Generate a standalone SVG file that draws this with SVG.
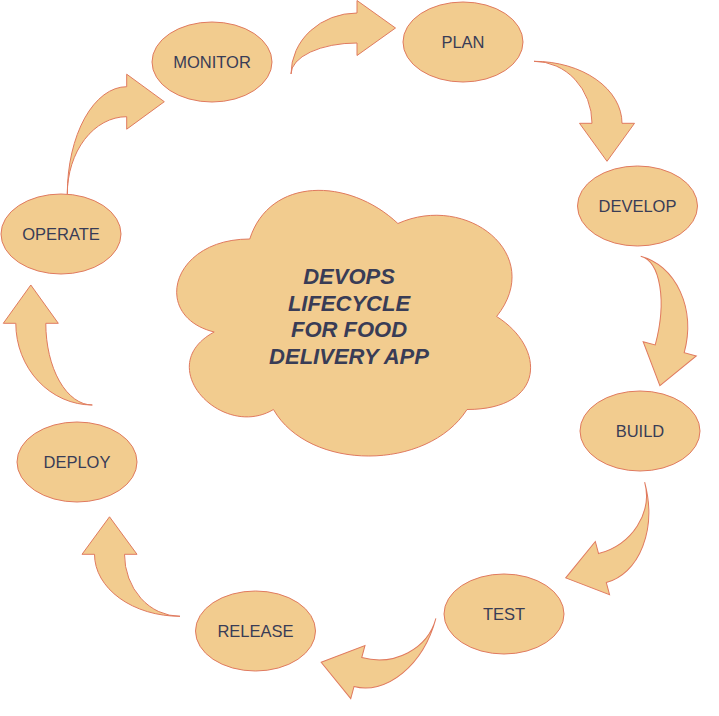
<svg xmlns="http://www.w3.org/2000/svg" width="719" height="716" viewBox="0 0 719 716">
<style>
.n{fill:#F2CC8F;stroke:#E07A5F;stroke-width:1}
.a{fill:#F2CC8F;stroke:#E07A5F;stroke-width:1;stroke-linejoin:miter}
.t{font-family:"Liberation Sans",Arial,sans-serif;font-size:16.5px;fill:#393C56;text-anchor:middle}
.c{font-family:"Liberation Sans",Arial,sans-serif;font-size:22px;font-weight:bold;font-style:italic;fill:#393C56;text-anchor:middle}
</style>
<rect width="719" height="716" fill="#ffffff"/>
<g id="center">
<path class="n" d="M249.75,239 C170.75,239 151,316.5 214.2,332 C151,366.1 222.1,440.5 273.45,409.5 C309,471.5 427.5,471.5 467,409.5 C546,409.5 546,347.5 496.6,316.5 C546,254.5 467,192.5 397.9,223.5 C348.5,177 269.5,177 249.75,239 Z"/>
<text class="c" x="349" y="284">DEVOPS </text>
<text class="c" x="349" y="310.5">LIFECYCLE</text>
<text class="c" x="349" y="337">FOR FOOD</text>
<text class="c" x="349" y="363.5">DELIVERY APP</text>
</g>
<g id="monitor"><ellipse class="n" cx="212" cy="62" rx="60" ry="40"/><text class="t" x="212" y="68">MONITOR</text></g>
<g id="plan"><ellipse class="n" cx="463" cy="42" rx="60" ry="40"/><text class="t" x="463" y="48">PLAN</text></g>
<g id="develop"><ellipse class="n" cx="637.5" cy="206" rx="60" ry="40"/><text class="t" x="637.5" y="212">DEVELOP</text></g>
<g id="build"><ellipse class="n" cx="640" cy="431" rx="60" ry="40"/><text class="t" x="640" y="437">BUILD</text></g>
<g id="test"><ellipse class="n" cx="504" cy="614" rx="60" ry="40"/><text class="t" x="504" y="620">TEST</text></g>
<g id="release"><ellipse class="n" cx="255.5" cy="631" rx="60" ry="40"/><text class="t" x="255.5" y="637">RELEASE</text></g>
<g id="deploy"><ellipse class="n" cx="77" cy="462" rx="60" ry="40"/><text class="t" x="77" y="468">DEPLOY</text></g>
<g id="operate"><ellipse class="n" cx="61" cy="234" rx="60" ry="40"/><text class="t" x="61" y="240">OPERATE</text></g>
<g id="connectors">
<path class="a" transform="translate(357,74)" d="M-66,0 A66,61 0 0 1 0,-61 L0,-73.5 L38.5,-46 L0,-18.5 L0,-31 A66,31 0 0 0 -66,0 Z"/>
<path class="a" transform="translate(534,123.3) rotate(90)" d="M-62,0 A62,88 0 0 1 0,-88 L0,-100.5 L38,-73 L0,-45.5 L0,-58 A62,58 0 0 0 -62,0 Z"/>
<path class="a" transform="translate(619.5,335.4) rotate(105)" d="M-82,0 A82,67 0 0 1 0,-67 L0,-79.5 L38,-52 L0,-24.5 L0,-37 A82,37 0 0 0 -82,0 Z"/>
<path class="a" transform="translate(583.8,498.5) rotate(165)" d="M-63,0 A63,87 0 0 1 0,-87 L0,-99.5 L38,-72 L0,-44.5 L0,-57 A63,57 0 0 0 -63,0 Z"/>
<path class="a" transform="translate(376.5,602.5) rotate(195)" d="M-61.5,0 A61.5,87 0 0 1 0,-87 L0,-99.5 L38,-72 L0,-44.5 L0,-57 A61.5,57 0 0 0 -61.5,0 Z"/>
<path class="a" transform="translate(180,554.3) rotate(-90)" d="M-62,0 A62,85.5 0 0 1 0,-85.5 L0,-98 L37.5,-70.5 L0,-43 L0,-55.5 A62,55.5 0 0 0 -62,0 Z"/>
<path class="a" transform="translate(92.3,323.3) rotate(-90)" d="M-81.7,0 A81.7,76.5 0 0 1 0,-76.5 L0,-89 L38.3,-61.5 L0,-34 L0,-46.5 A81.7,46.5 0 0 0 -81.7,0 Z"/>
<path class="a" transform="translate(126.7,194)" d="M-59.4,0 A59.4,107.3 0 0 1 0,-107.3 L0,-119.8 L37.6,-92.3 L0,-64.8 L0,-77.3 A59.4,77.3 0 0 0 -59.4,0 Z"/>
</g>
</svg>
